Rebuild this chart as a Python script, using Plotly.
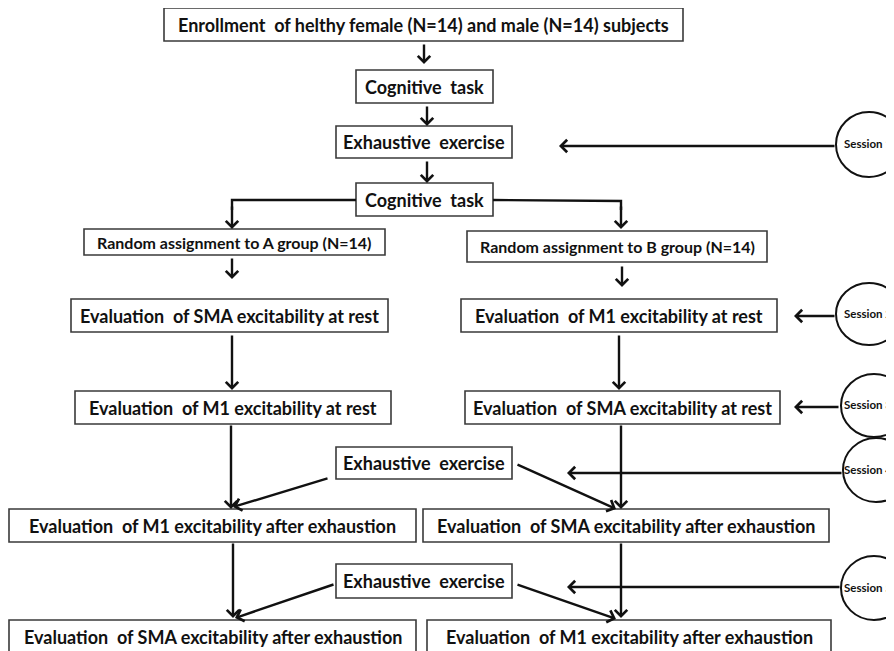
import plotly.graph_objects as go

# box texts, top to bottom, left column before right column
BOX_LABELS = [
    "Enrollment\u00a0 of helthy female (N=14) and male (N=14) subjects",
    "Cognitive\u00a0 task",
    "Exhaustive\u00a0 exercise",
    "Cognitive\u00a0 task",
    "Random assignment to A group (N=14)",
    "Random assignment to B group (N=14)",
    "Evaluation\u00a0 of SMA excitability at rest",
    "Evaluation\u00a0 of M1 excitability at rest",
    "Evaluation\u00a0 of M1 excitability at rest",
    "Evaluation\u00a0 of SMA excitability at rest",
    "Exhaustive\u00a0 exercise",
    "Evaluation\u00a0 of M1 excitability after exhaustion",
    "Evaluation\u00a0 of SMA excitability after exhaustion",
    "Exhaustive\u00a0 exercise",
    "Evaluation\u00a0 of SMA excitability after exhaustion",
    "Evaluation\u00a0 of M1 excitability after exhaustion",
]
SESSION_LABELS = ["Session 1", "Session 2", "Session 3", "Session 4", "Session 5"]

# layout (pixel coords of the page, y down): x0, x1, y0, y1
BOX_GEOM = [
    (164, 683, 8, 41), (356, 493, 70, 103), (336, 512, 126, 158), (356, 493, 183, 216),
    (84, 385, 229, 255), (467, 767, 231, 262),
    (71, 388, 299, 332), (461, 777, 299, 332),
    (75, 391, 391, 424), (465, 780, 391, 424),
    (336, 512, 447, 479),
    (9, 416, 509, 542), (423, 829, 509, 542),
    (336, 512, 564, 598),
    (9, 416, 620, 654), (427, 831, 620, 654),
]
BOX_FONT = [18, 18, 18, 18, 16, 16, 18, 18, 18, 18, 18, 18, 18, 18, 18, 18]
CIRCLE_GEOM = [(836, 902, 112, 177), (836, 902, 283, 345), (841, 907, 374, 437),
               (843, 909, 438, 502), (841, 907, 556, 620)]
SESSION_ARROWS = [(836, 146, 559, 146), (836, 316, 794, 316), (840, 407, 794, 407),
                  (843, 473, 567, 473), (841, 587, 567, 587)]
ARROWS = [
    (424, 43, 424, 64), (427, 105, 427, 126), (427, 160, 427, 183),
    (232, 205, 232, 229), (621, 205, 621, 229),
    (232, 257, 232, 279), (622, 265, 622, 287),
    (232, 334, 232, 390), (619, 334, 619, 390),
    (231, 424, 231, 509), (621, 424, 621, 509),
    (329, 478, 233, 507), (516, 464, 616, 509),
    (233, 542, 233, 618), (621, 542, 621, 618),
    (335, 584, 235, 618), (516, 584, 616, 619),
]
BRANCHES = ["M 356 200 L 232 200 L 232 210", "M 493 200 L 621 201 L 621 210"]

W, H = 894, 651
PAD = 8  # default body margin of the html page
INK = "#111111"

fig = go.Figure()

for (x0, x1, y0, y1), label, fs in zip(BOX_GEOM, BOX_LABELS, BOX_FONT):
    fig.add_shape(type="rect", x0=x0, x1=x1, y0=y0, y1=y1,
                  line=dict(color="#3a3a3a", width=1.6), fillcolor="white")
    fig.add_annotation(x=(x0 + x1) / 2, y=(y0 + y1) / 2, text=f"<b>{label}</b>",
                       showarrow=False, font=dict(family="Lato", size=fs, color=INK))

for path in BRANCHES:
    fig.add_shape(type="path", path=path, line=dict(color=INK, width=2.4))


def arrow(x0, y0, x1, y1):
    fig.add_annotation(x=x1, y=y1, ax=x0, ay=y0, axref="x", ayref="y", text="",
                       showarrow=True, arrowhead=4, arrowsize=1.0, arrowwidth=2.4,
                       arrowcolor=INK, standoff=0)


for a in ARROWS:
    arrow(*a)

for (x0, x1, y0, y1), label, a in zip(CIRCLE_GEOM, SESSION_LABELS, SESSION_ARROWS):
    fig.add_shape(type="circle", x0=x0, x1=x1, y0=y0, y1=y1,
                  line=dict(color=INK, width=2))
    arrow(*a)
    # circles run off the right edge; keep the label inside the page
    fig.add_annotation(x=W - 1, y=(y0 + y1) / 2 - 1, text=f"<b>{label}</b>",
                       xanchor="right", showarrow=False, borderpad=0,
                       font=dict(family="Lato", size=11.5, color=INK))

fig.update_xaxes(range=[PAD, W], visible=False)
fig.update_yaxes(range=[H, PAD], visible=False)
fig.update_layout(width=W - PAD, height=H - PAD, margin=dict(l=0, r=0, t=0, b=0),
                  plot_bgcolor="white", paper_bgcolor="white", showlegend=False)

fig.write_html("out.html")
